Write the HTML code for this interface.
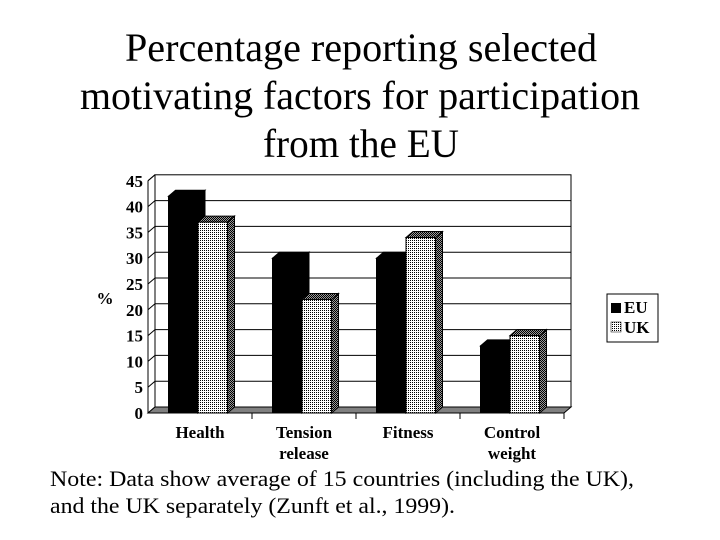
<!DOCTYPE html>
<html><head><meta charset="utf-8"><style>
html,body{margin:0;padding:0;background:#fff;width:720px;height:540px;overflow:hidden}
svg{display:block}
.t{font-family:"Liberation Serif",serif}
</style></head><body>
<svg id="chart" width="720" height="540" viewBox="0 0 720 540">
<defs>
<pattern id="uk" width="2" height="2" patternUnits="userSpaceOnUse"><rect width="2" height="2" fill="#fff"/><rect width="1" height="1" fill="#000"/></pattern>
<pattern id="ukside" width="2" height="2" patternUnits="userSpaceOnUse"><rect width="2" height="2" fill="#999"/><rect width="1" height="1" fill="#000"/><rect x="1" y="1" width="1" height="1" fill="#000"/></pattern>
</defs>
<g class="t" font-size="40" text-anchor="middle">
<text x="361" y="61" textLength="472" lengthAdjust="spacingAndGlyphs">Percentage reporting selected</text>
<text x="360" y="109" textLength="560" lengthAdjust="spacingAndGlyphs">motivating factors for participation</text>
<text x="361" y="157" textLength="196" lengthAdjust="spacingAndGlyphs">from the EU</text>
</g>
<g id="plot"></g>
<g class="t" font-size="22">
<text x="50" y="486" textLength="584" lengthAdjust="spacingAndGlyphs">Note: Data show average of 15 countries (including the UK),</text>
<text x="50" y="513" textLength="405" lengthAdjust="spacingAndGlyphs">and the UK separately (Zunft et al., 1999).</text>
</g>
<g>
<rect x="607" y="294" width="51" height="48" fill="#fff" stroke="#000"/>
<rect x="611" y="303" width="10" height="10" fill="#000"/>
<text x="624" y="313" class="t" font-size="17" font-weight="bold">EU</text>
<rect x="611" y="322" width="10" height="10" fill="url(#uk)" stroke="#000" stroke-width="0.5"/>
<text x="624" y="333" class="t" font-size="17" font-weight="bold">UK</text>
</g>
</svg>
<script>
const categories = [["Health"],["Tension","release"],["Fitness"],["Control","weight"]];
const euValues = [42, 30, 30, 13];
const ukValues = [37, 22, 34, 15];
const yTicks = [0,5,10,15,20,25,30,35,40,45];

const NS = "http://www.w3.org/2000/svg";
const g = document.getElementById("plot");
const X0 = 148, X1 = 564, Y0 = 413, PX = 5.16, DX = 7, DY = -6, BW = 29.5;
const y = v => Y0 - v * PX;
const catW = (X1 - X0) / categories.length;
function mk(tag, attrs, parent) {
  const e = document.createElementNS(NS, tag);
  for (const k in attrs) e.setAttribute(k, attrs[k]);
  (parent || g).appendChild(e);
  return e;
}
let el = mk("rect", {x: X0 + DX, y: y(45) + DY, width: X1 - X0, height: 45 * PX, fill: "#fff", stroke: "#000"});


yTicks.forEach(t => {
  if (t > 0 && t < 45) {
    const l = mk("line", {x1: X0 + DX, x2: X1 + DX, y1: y(t) + DY, y2: y(t) + DY, stroke: "#000"});
    
    
  }
  const gl = mk("line", {x1: X0, x2: X0 + DX, y1: y(t), y2: y(t) + DY, stroke: "#000"});
  
  
  const tx = mk("text", {x: X0 - 5, y: y(t) + 6, "text-anchor": "end", "font-size": 17, "font-weight": "bold", "font-family": "Liberation Serif, serif"});
  tx.textContent = t;
  
  
});
el = mk("line", {x1: X0, y1: Y0, x2: X0, y2: y(45), stroke: "#000"});


el = mk("line", {x1: X0, y1: y(45), x2: X0 + DX, y2: y(45) + DY, stroke: "#000"});


el = mk("polygon", {points: `${X0},${Y0} ${X1},${Y0} ${X1 + DX},${Y0 + DY} ${X0 + DX},${Y0 + DY}`, fill: "#808080", stroke: "#000"});


el = mk("text", {x: 105, y: 304, "text-anchor": "middle", "font-size": 17, "font-weight": "bold", "font-family": "Liberation Serif, serif"});
el.textContent = "%";


function bar(x, v, front, side, top, name) {
  const grp = mk("g", {});
  
  
  const yt = y(v);
  mk("polygon", {points: `${x + BW},${Y0} ${x + BW + DX},${Y0 + DY} ${x + BW + DX},${yt + DY} ${x + BW},${yt}`, fill: side, stroke: "#000"}, grp);
  mk("polygon", {points: `${x},${yt} ${x + DX},${yt + DY} ${x + BW + DX},${yt + DY} ${x + BW},${yt}`, fill: top, stroke: "#000"}, grp);
  mk("rect", {x: x, y: yt, width: BW, height: Y0 - yt, fill: front, stroke: "#000"}, grp);
}
categories.forEach((c, i) => {
  const cx = X0 + catW * (i + 0.5);
  bar(cx - BW - 2, euValues[i], "#000", "#000", "#000", "bar-eu-" + i);
  bar(cx - 2, ukValues[i], "url(#uk)", "url(#ukside)", "url(#ukside)", "bar-uk-" + i);
  const tk = mk("line", {x1: X0 + catW * (i + 1), x2: X0 + catW * (i + 1), y1: Y0, y2: Y0 + 6, stroke: "#000"});
  
  
  c.forEach((line, j) => {
    const t = mk("text", {x: cx, y: 438 + j * 21, "text-anchor": "middle", "font-size": 17, "font-weight": "bold", "font-family": "Liberation Serif, serif"});
    t.textContent = line;
    
    
  });
});
</script>
</body></html>
